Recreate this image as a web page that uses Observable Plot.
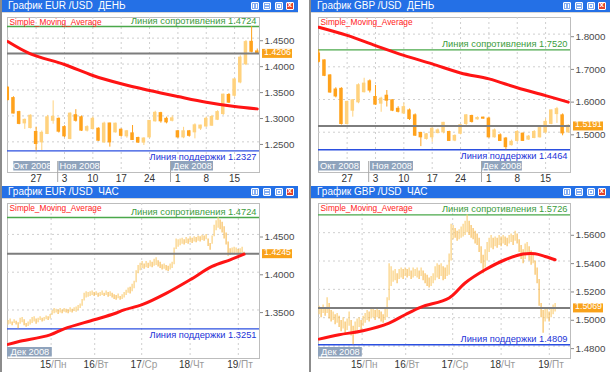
<!DOCTYPE html>
<html><head><meta charset="utf-8">
<script src="https://cdn.jsdelivr.net/npm/d3@7"></script>
<script src="https://cdn.jsdelivr.net/npm/@observablehq/plot@0.6"></script>
<style>
html,body{margin:0;padding:0}
body{width:610px;height:372px;position:relative;overflow:hidden;background:#fff;font-family:"Liberation Sans",Arial,sans-serif}
.edge{position:absolute;top:0;width:2px;height:372px;background:#8c8c8c}
.bar{position:absolute;height:12px;background:#2470e6;color:#fff;font-size:10px;line-height:12px;white-space:pre;box-sizing:border-box;padding-left:6px}
.sub{position:absolute;height:1px;background:#d6d6d6}
.b{position:absolute;top:2px;width:6px;height:6px;border:1px solid #fff;background:#86aef2;border-radius:1px;box-sizing:content-box}
.b i{position:absolute;background:#fff}
.b.x{background:#e4432c}
.plot{position:absolute}
</style></head><body>
<script>
// ---------- DATA ----------
// EUR/USD daily (20 Oct – 19 Dec 2008), trading-day index 0..44
const eurDailyOpen  = [1.354,1.334,1.307,1.286,1.277,1.2687,1.2494,1.2656,1.291,1.294,1.278,1.256,1.301,1.297,1.272,1.275,1.275,1.2494,1.285,1.2687,1.273,1.261,1.266,1.257,1.249,1.259,1.290,1.305,1.294,1.291,1.270,1.259,1.270,1.2687,1.276,1.280,1.2815,1.293,1.304,1.340,1.3393,1.365,1.400,1.4425,1.424];
const eurDailyHigh  = [1.356,1.337,1.309,1.294,1.302,1.2783,1.271,1.301,1.329,1.296,1.281,1.306,1.312,1.300,1.281,1.298,1.277,1.2879,1.286,1.286,1.275,1.272,1.2815,1.259,1.258,1.291,1.309,1.307,1.2976,1.300,1.272,1.278,1.272,1.2847,1.282,1.298,1.301,1.310,1.342,1.343,1.3715,1.416,1.4454,1.4724,1.429];
const eurDailyLow   = [1.329,1.304,1.283,1.274,1.275,1.2327,1.2333,1.264,1.284,1.267,1.258,1.254,1.288,1.270,1.269,1.273,1.251,1.247,1.2398,1.267,1.259,1.257,1.2526,1.247,1.243,1.257,1.288,1.286,1.2847,1.2885,1.257,1.256,1.259,1.2558,1.272,1.278,1.280,1.291,1.301,1.324,1.336,1.362,1.397,1.4217,1.419];
const eurDailyClose = [1.331,1.305,1.285,1.292,1.300,1.2462,1.267,1.297,1.298,1.270,1.261,1.304,1.291,1.272,1.278,1.294,1.2526,1.2847,1.2494,1.2847,1.262,1.270,1.254,1.249,1.256,1.290,1.3056,1.290,1.288,1.295,1.259,1.270,1.262,1.2815,1.281,1.294,1.2976,1.307,1.3406,1.326,1.370,1.412,1.442,1.424,1.4206];
const eurDailySmaIdx = [0,4,10,15,20,25,30,35,40,44];
const eurDailySmaVal = [1.4435,1.4197,1.3991,1.3779,1.3619,1.349,1.3374,1.3264,1.3181,1.3136];

// GBP/USD daily
const gbpDailyOpen  = [1.740,1.719,1.673,1.630,1.632,1.5257,1.5664,1.592,1.623,1.655,1.607,1.588,1.611,1.597,1.571,1.558,1.566,1.551,1.497,1.480,1.485,1.498,1.500,1.500,1.475,1.496,1.5257,1.549,1.540,1.544,1.541,1.485,1.490,1.480,1.461,1.474,1.495,1.478,1.483,1.485,1.500,1.526,1.556,1.551,1.500];
const gbpDailyHigh  = [1.752,1.721,1.676,1.636,1.636,1.595,1.600,1.648,1.665,1.660,1.643,1.607,1.6275,1.599,1.578,1.589,1.571,1.556,1.500,1.496,1.513,1.510,1.530,1.503,1.492,1.523,1.554,1.552,1.547,1.546,1.546,1.510,1.495,1.484,1.476,1.505,1.497,1.490,1.505,1.515,1.541,1.568,1.576,1.556,1.523];
const gbpDailyLow   = [1.712,1.670,1.619,1.605,1.522,1.522,1.546,1.587,1.620,1.620,1.582,1.561,1.577,1.563,1.559,1.554,1.536,1.487,1.456,1.476,1.469,1.495,1.495,1.472,1.471,1.492,1.5206,1.528,1.537,1.540,1.482,1.482,1.472,1.4464,1.458,1.469,1.472,1.475,1.480,1.482,1.495,1.523,1.527,1.489,1.497];
const gbpDailyClose = [1.716,1.673,1.622,1.610,1.5257,1.592,1.597,1.643,1.648,1.628,1.585,1.602,1.597,1.5664,1.563,1.576,1.541,1.490,1.485,1.493,1.510,1.505,1.528,1.474,1.488,1.521,1.551,1.532,1.543,1.542,1.485,1.505,1.474,1.455,1.470,1.500,1.474,1.486,1.500,1.512,1.531,1.566,1.570,1.497,1.5191];
const gbpDailySmaIdx = [0,5,10,15,20,25,30,35,40,44];
const gbpDailySmaVal = [1.821,1.796,1.765,1.735,1.709,1.681,1.663,1.636,1.612,1.592];

// EUR/USD hourly, bar index 0..118
const eurHourLow = [1.330,1.331,1.329,1.332,1.330,1.3251,1.331,1.333,1.329,1.327,
 1.328,1.330,1.332,1.334,1.331,1.333,1.336,1.334,1.335,1.337,
 1.336,1.338,1.343,1.345,1.346,1.344,1.346,1.345,1.347,1.346,
 1.345,1.347,1.346,1.348,1.347,1.349,1.352,1.355,1.362,1.366,
 1.367,1.368,1.369,1.368,1.369,1.367,1.368,1.369,1.368,1.369,
 1.367,1.368,1.366,1.364,1.363,1.365,1.363,1.364,1.366,1.369,
 1.372,1.371,1.374,1.378,1.386,1.398,1.402,1.405,1.404,1.406,
 1.405,1.407,1.406,1.408,1.409,1.407,1.405,1.403,1.404,1.402,
 1.401,1.403,1.405,1.410,1.430,1.433,1.435,1.437,1.436,1.438,
 1.437,1.439,1.438,1.440,1.439,1.441,1.440,1.442,1.441,1.443,
 1.434,1.429,1.437,1.447,1.455,1.458,1.456,1.452,1.444,1.436,
 1.421,1.422,1.424,1.423,1.425,1.422,1.424,1.425,1.423];
const eurHourHigh = [1.336,1.338,1.334,1.337,1.335,1.333,1.339,1.340,1.337,1.332,
 1.334,1.337,1.340,1.341,1.338,1.339,1.341,1.339,1.340,1.342,
 1.341,1.344,1.349,1.352,1.351,1.350,1.352,1.350,1.352,1.351,
 1.350,1.353,1.351,1.353,1.354,1.356,1.358,1.364,1.372,1.374,
 1.373,1.374,1.375,1.373,1.374,1.372,1.373,1.375,1.372,1.375,
 1.373,1.374,1.372,1.370,1.369,1.371,1.368,1.370,1.373,1.376,
 1.379,1.380,1.384,1.388,1.402,1.409,1.412,1.414,1.411,1.414,
 1.412,1.415,1.413,1.417,1.419,1.415,1.413,1.410,1.411,1.409,
 1.408,1.411,1.413,1.432,1.444,1.443,1.444,1.445,1.443,1.446,
 1.444,1.447,1.445,1.447,1.446,1.448,1.447,1.449,1.448,1.450,
 1.444,1.438,1.448,1.462,1.468,1.4724,1.469,1.466,1.460,1.452,
 1.440,1.431,1.432,1.433,1.432,1.430,1.431,1.433,1.4265];
const eurHourSmaIdx = [0,5,21,28,43,53,58,67,79,91,102,111,118];
const eurHourSmaVal = [1.3045,1.308,1.317,1.3251,1.337,1.345,1.3502,1.357,1.372,1.39,1.4076,1.4164,1.4238];

// GBP/USD hourly
const gbpHourLow = [1.502,1.500,1.503,1.501,1.503,1.499,1.497,1.498,1.495,1.496,
 1.493,1.490,1.492,1.488,1.491,1.494,1.487,1.4809,1.488,1.491,
 1.493,1.490,1.494,1.496,1.498,1.497,1.499,1.500,1.498,1.500,
 1.499,1.497,1.496,1.498,1.500,1.512,1.522,1.525,1.526,1.524,
 1.527,1.528,1.527,1.529,1.528,1.529,1.527,1.528,1.529,1.528,
 1.527,1.529,1.526,1.524,1.522,1.521,1.522,1.524,1.526,1.528,
 1.527,1.529,1.526,1.527,1.529,1.530,1.540,1.555,1.556,1.554,
 1.555,1.556,1.557,1.558,1.560,1.558,1.556,1.555,1.552,1.551,
 1.546,1.538,1.531,1.535,1.540,1.546,1.549,1.548,1.550,1.549,
 1.551,1.550,1.552,1.551,1.550,1.552,1.553,1.551,1.554,1.552,
 1.546,1.541,1.538,1.541,1.544,1.540,1.537,1.538,1.530,1.524,
 1.508,1.500,1.489,1.497,1.499,1.497,1.500,1.502,1.504];
const gbpHourHigh = [1.508,1.506,1.509,1.507,1.514,1.510,1.505,1.504,1.502,1.503,
 1.501,1.498,1.500,1.497,1.499,1.504,1.498,1.494,1.497,1.499,
 1.500,1.498,1.501,1.503,1.505,1.504,1.506,1.507,1.505,1.506,
 1.505,1.504,1.502,1.506,1.514,1.538,1.536,1.533,1.534,1.531,
 1.534,1.535,1.534,1.535,1.534,1.535,1.533,1.535,1.534,1.535,
 1.533,1.535,1.533,1.531,1.530,1.528,1.529,1.531,1.536,1.538,
 1.537,1.538,1.536,1.535,1.537,1.545,1.566,1.565,1.563,1.561,
 1.562,1.564,1.566,1.568,1.5726,1.568,1.565,1.563,1.561,1.559,
 1.556,1.550,1.544,1.548,1.553,1.556,1.558,1.556,1.557,1.556,
 1.558,1.557,1.558,1.557,1.556,1.558,1.559,1.558,1.561,1.559,
 1.555,1.551,1.548,1.552,1.553,1.550,1.547,1.546,1.540,1.535,
 1.527,1.510,1.505,1.507,1.506,1.504,1.507,1.509,1.510];
const gbpHourSmaIdx = [0,10,22,35,43,51,65,73,83,93,102,108,113,118];
const gbpHourSmaVal = [1.4849,1.488,1.4908,1.4962,1.5021,1.5075,1.5139,1.5245,1.5338,1.5409,1.5449,1.5451,1.5432,1.5409];

// levels
const eurDailyRes = 1.4724, eurDailySup = 1.2327, eurDailyLast = 1.4206;
const gbpDailyRes = 1.7520, gbpDailySup = 1.4464, gbpDailyLast = 1.5191;
const eurHourRes = 1.4724, eurHourSup = 1.3251, eurHourLast = 1.4245;
const gbpHourRes = 1.5726, gbpHourSup = 1.4809, gbpHourLast = 1.5069;

// tick labels
const eurDailyTicks = [1.25,1.30,1.35,1.40,1.45];
const gbpDailyTicks = [1.5,1.6,1.7,1.8];
const eurHourTicks = [1.35,1.40,1.45];
const gbpHourTicks = [1.48,1.50,1.52,1.54,1.56];
const dailyDayIdx = [5,10,15,20,25,30,35,40];
const dailyDayLabels = ["27","3","10","17","24","1","8","15"];
const dailyMonthLabels = ["Окт 2008","Ноя 2008","Дек 2008"];
const dailyMonthSep = [8.8,28.7];
const hourDayIdx = [21.5,43.3,66.8,91,115.1];
const hourDayNum = ["15","16","17","18","19"];
const hourDayName = ["/Пн","/Вт","/Ср","/Чт","/Пт"];
const hourMonthLabels = ["Дек 2008"];

// ---------- CHROME ----------
function chrome(left, top, width, title, btnLeft) {
  const e = document.createElement("div"); e.className="edge"; e.style.left=(left-2)+"px"; document.body.appendChild(e);
  const b = document.createElement("div"); b.className="bar";
  b.style.left=left+"px"; b.style.top=top+"px"; b.style.width=width+"px"; b.textContent=title;
  const glyph = [
    [[1,1,1,4],[4,1,1,4]],
    [[1,1,4,1],[1,4,4,1]],
    [[1,1,4,1],[1,4,4,1],[1,1,1,4],[4,1,1,4]],
    []
  ];
  btnLeft.forEach((bl,k)=>{
    const d=document.createElement("div"); d.className="b"+(k===3?" x":""); d.style.left=bl+"px";
    glyph[k].forEach(g=>{const s=document.createElement("i");s.style.left=g[0]+"px";s.style.top=g[1]+"px";s.style.width=g[2]+"px";s.style.height=g[3]+"px";d.appendChild(s);});
    if(k===3){d.innerHTML='<span style="position:absolute;left:0.5px;top:-3px;font:bold 8px Liberation Sans;color:#fff">x</span>';}
    b.appendChild(d);
  });
  document.body.appendChild(b);
  const s=document.createElement("div"); s.className="sub"; s.style.left=left+"px"; s.style.top=(top+12)+"px"; s.style.width=width+"px"; document.body.appendChild(s);
}
chrome(2,0,296,"График EUR /USD  ДЕНЬ",[249,261,273,284]);
chrome(311,0,299,"График GBP /USD  ДЕНЬ",[252,264,276,287]);
chrome(2,186,296,"График EUR /USD  ЧАС",[249,261,273,284]);
chrome(311,186,299,"График GBP /USD  ЧАС",[252,264,276,287]);

// ---------- PLOTS ----------
const fmt = d3.format(".4f");
const FONT = "Liberation Sans, Arial, sans-serif";
const UP = "#ffd27e", DN = "#ffa21c";

function panel(cfg) {
  const W=299,H=174,mL=7,mR=40,mT=5,mB=14;
  const fw=W-mL-mR, fh=H-mT-mB;
  const [x0,x1]=cfg.xDomain, [y0,y1]=cfg.yDomain;
  const ppx=fw/(x1-x0), ppy=fh/(y1-y0);
  const marks=[];
  marks.push(Plot.frame({stroke:"#bdbdbd"}));
  marks.push(Plot.ruleY(cfg.yTicks,{stroke:"#cfcfcf",strokeDasharray:"2,3"}));
  marks.push(Plot.ruleX(cfg.gridX,{stroke:"#cfcfcf",strokeDasharray:"2,3"}));
  marks.push(Plot.ruleY([cfg.res],{stroke:"#4aa84a",strokeWidth:1.3}));
  marks.push(Plot.ruleY([cfg.sup],{stroke:"#2b4fe0",strokeWidth:1.3}));
  if (cfg.daily) {
    const c = cfg.open.map((o,i)=>({i,o,h:cfg.high[i],l:cfg.low[i],c:cfg.close[i]}));
    const up = c.filter(d=>d.c>=d.o), dn = c.filter(d=>d.c<d.o);
    for (const [set,col] of [[up,UP],[dn,DN]]) {
      marks.push(Plot.ruleX(set,{x:"i",y1:"l",y2:"h",stroke:col,strokeWidth:1,clip:true}));
      marks.push(Plot.rect(set,{x1:d=>d.i-0.31,x2:d=>d.i+0.31,y1:"o",y2:"c",fill:col,insetTop:-0.7,insetBottom:-0.7,clip:true}));
    }
  } else {
    const b = cfg.low.map((l,i)=>({i,l,h:cfg.high[i],m:(l+cfg.high[i])/2}));
    const up = b.filter((d,i)=>i===0||d.m>=b[i-1].m), dn = b.filter((d,i)=>i>0&&d.m<b[i-1].m);
    marks.push(Plot.ruleX(up,{x:"i",y1:"l",y2:"h",stroke:"#fbcd72",strokeWidth:1.1,clip:true}));
    marks.push(Plot.ruleX(dn,{x:"i",y1:"l",y2:"h",stroke:"#f7b84e",strokeWidth:1.1,clip:true}));
  }
  marks.push(Plot.ruleY([cfg.last],{stroke:"#7d7d7d",strokeWidth:2}));
  const sma = cfg.smaIdx.map((x,k)=>({x,y:cfg.smaVal[k]}));
  marks.push(Plot.line(sma,{x:"x",y:"y",stroke:"#ff1414",strokeWidth:3,curve:"catmull-rom",clip:true}));
  marks.push(Plot.text(["Simple_Moving_Average"],{frameAnchor:"top-left",dx:2,dy:1.5,textAnchor:"start",lineAnchor:"top",fill:"#ff2020",fontSize:8.3}));
  marks.push(Plot.text([cfg.res],{y:d=>d,text:d=>"Линия сопротивления "+fmt(d),frameAnchor:"right",textAnchor:"end",dx:-3,dy:-5.5,fill:"#3c9c3c",fontSize:9.3}));
  marks.push(Plot.text([cfg.sup],{y:d=>d,text:d=>"Линия поддержки "+fmt(d),frameAnchor:"right",textAnchor:"end",dx:-3,dy:cfg.supAbove?-5.5:6,fill:"#2233d8",fontSize:9.3}));
  // month boxes
  marks.push(Plot.rect(cfg.months,{x1:"a",x2:"b",y1:y0+1.5/ppy,y2:y0+11/ppy,fill:"#8fa3bc"}));
  marks.push(Plot.text(cfg.months,{x:d=>(d.a+d.b)/2,y:y0+6.2/ppy,text:"label",fill:"#fff",fontSize:9.3}));
  if (cfg.daily) {
    marks.push(Plot.ruleX(dailyMonthSep,{y1:y0+11/ppy,y2:y0-10/ppy,stroke:"#a8a8a8"}));
    marks.push(Plot.text(dailyDayIdx,{x:d=>d,y:y0,text:(d,k)=>dailyDayLabels[k],dy:6,lineAnchor:"middle",fill:"#333",fontSize:10}));
  } else {
    marks.push(Plot.text(hourDayIdx,{x:d=>d,y:y0,text:(d,k)=>hourDayNum[k],dy:6,lineAnchor:"middle",textAnchor:"end",fill:"#333",fontSize:10}));
    marks.push(Plot.text(hourDayIdx,{x:d=>d,y:y0,text:(d,k)=>hourDayName[k],dy:6,lineAnchor:"middle",textAnchor:"start",fill:"#9a9a9a",fontSize:10}));
  }
  marks.push(Plot.axisY(cfg.yTicks,{anchor:"right",tickSize:3,tickPadding:2,tickFormat:fmt,fontSize:9.8,dy:2.6,label:null,fontFamily:"Liberation Sans Narrow, Liberation Sans, Arial",stroke:"#888",fill:"#4a4a4a"}));
  marks.push(Plot.ruleY([cfg.last],{x1:x1+3/ppx,x2:x1+33/ppx,stroke:"#f9a21a",strokeWidth:9}));
  marks.push(Plot.text([cfg.last],{x:x1+18/ppx,y:d=>d,text:d=>fmt(d),fill:"#fff",fontSize:8.8,dy:-1.5}));
  const svg = Plot.plot({
    width:W,height:H,marginLeft:mL,marginRight:mR,marginTop:mT,marginBottom:mB,
    x:{domain:cfg.xDomain,axis:null},
    y:{domain:cfg.yDomain},
    style:{fontFamily:FONT,fontSize:"10px",color:"#4a4a4a",background:"transparent",overflow:"visible"},
    marks
  });
  svg.classList.add("plot");
  svg.style.left=cfg.left+"px"; svg.style.top=cfg.top+"px"; svg.style.position="absolute";
  document.body.appendChild(svg);
}

const mk = (labels, spans) => labels.map((label,k)=>({label,a:spans[k][0],b:spans[k][1]}));

panel({left:0,top:12,daily:true,xDomain:[-0.05,44.39],yDomain:[1.1909,1.4898],yTicks:eurDailyTicks,
  open:eurDailyOpen,high:eurDailyHigh,low:eurDailyLow,close:eurDailyClose,smaIdx:eurDailySmaIdx,smaVal:eurDailySmaVal,
  res:eurDailyRes,sup:eurDailySup,last:eurDailyLast,gridX:dailyDayIdx,
  months:mk(dailyMonthLabels,[[1.06,7.53],[9.0,16.35],[28.87,36.28]])});
panel({left:311,top:12,daily:true,xDomain:[-0.05,44.39],yDomain:[1.3768,1.8508],yTicks:gbpDailyTicks,
  open:gbpDailyOpen,high:gbpDailyHigh,low:gbpDailyLow,close:gbpDailyClose,smaIdx:gbpDailySmaIdx,smaVal:gbpDailySmaVal,
  res:gbpDailyRes,sup:gbpDailySup,last:gbpDailyLast,gridX:dailyDayIdx,
  months:mk(dailyMonthLabels,[[-0.05,7.35],[9.1,16.7],[28.7,35.9]])});
panel({left:0,top:198,daily:false,xDomain:[-0.3,125.7],yDomain:[1.2858,1.4909],yTicks:eurHourTicks,
  low:eurHourLow,high:eurHourHigh,smaIdx:eurHourSmaIdx,smaVal:eurHourSmaVal,
  res:eurHourRes,sup:eurHourSup,last:eurHourLast,gridX:hourDayIdx,
  months:mk(hourMonthLabels,[[-0.3,22.1]])});
panel({left:311,top:198,daily:false,xDomain:[-0.3,125.7],yDomain:[1.4712,1.5806],yTicks:gbpHourTicks,supAbove:true,
  low:gbpHourLow,high:gbpHourHigh,smaIdx:gbpHourSmaIdx,smaVal:gbpHourSmaVal,
  res:gbpHourRes,sup:gbpHourSup,last:gbpHourLast,gridX:hourDayIdx,
  months:mk(hourMonthLabels,[[-0.3,21.6]])});
</script>
</body></html>
